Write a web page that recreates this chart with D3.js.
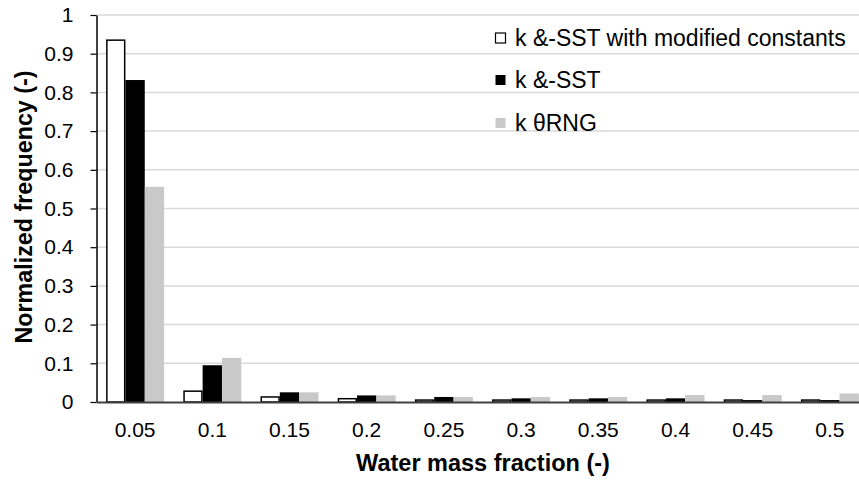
<!DOCTYPE html>
<html>
<head>
<meta charset="utf-8">
<script src="https://cdn.jsdelivr.net/npm/d3@7"></script>
<style>
  body { margin: 0; background: #fff; }
  text { font-family: "Liberation Sans", Arial, sans-serif; }
</style>
</head>
<body>
<div id="chart"></div>
<script>
// categories on the x axis
const fractions = ["0.05", "0.1", "0.15", "0.2", "0.25", "0.3", "0.35", "0.4", "0.45", "0.5"];
const seriesNames = ["k &-SST with modified constants", "k &-SST", "k \u03B8RNG"];
// values
const sstModified = [0.935, 0.028, 0.013, 0.0085, 0.005, 0.005, 0.005, 0.005, 0.005, 0.005];
const sst = [0.832, 0.095, 0.025, 0.017, 0.013, 0.0095, 0.0095, 0.0095, 0.005, 0.005];
const rng = [0.556, 0.114, 0.025, 0.017, 0.013, 0.013, 0.013, 0.018, 0.018, 0.022];
const yTicks = [0, 0.1, 0.2, 0.3, 0.4, 0.5, 0.6, 0.7, 0.8, 0.9, 1];

const width = 859, height = 482;
const plotLeft = 96.5, plotTop = 15, plotBottom = 402;
const bandW = 77.2;

const svg = d3.select("#chart").append("svg")
  .attr("width", width)
  .attr("height", height);

const x = d3.scaleBand()
  .domain(fractions)
  .range([plotLeft, plotLeft + bandW * fractions.length])
  .padding(0);

const sub = d3.scaleBand()
  .domain([0, 1, 2])
  .range([9.6, 67.6]);

const y = d3.scaleLinear().domain([0, 1]).range([plotBottom, plotTop]);

//gridlines
svg.append("g")
  .selectAll("line")
  .data(yTicks.slice(1))
  .enter()
  .append("line")
  .attr("x1", plotLeft)
  .attr("x2", plotLeft + bandW * fractions.length)
  .attr("y1", (d) => y(d))
  .attr("y2", (d) => y(d))
  .attr("stroke", "#d9d9d9")
  .attr("stroke-width", 1.5);

// bars
const fills = ["#ffffff", "#000000", "#c9c9c9"];
const allSeries = [sstModified, sst, rng];
allSeries.forEach(function (vals, s) {
  svg.append("g")
    .selectAll("rect")
    .data(vals)
    .enter()
    .append("rect")
    .attr("x", (d, i) => x(fractions[i]) + sub(s) + (s == 0 ? 0.75 : 0))
    .attr("width", sub.bandwidth() - (s == 0 ? 1.5 : 0))
    .attr("y", (d) => y(d))
    .attr("height", (d) => plotBottom - y(d))
    .attr("fill", fills[s])
    .attr("stroke", s == 0 ? "#000" : "none")
    .attr("stroke-width", 1.5);
});

// y axis
const yAxis = svg.append("g")
  .attr("transform", "translate(" + plotLeft + ",0)")
  .call(d3.axisLeft(y).tickValues(yTicks).tickSize(6).tickPadding(17)
    .tickSizeOuter(0).tickFormat((d) => String(+d.toFixed(1))));
yAxis.select(".domain").attr("stroke", "#000").attr("stroke-width", 1.5);
yAxis.selectAll(".tick line").attr("stroke", "#000").attr("stroke-width", 1.2);
yAxis.selectAll("text").attr("font-size", 21).attr("fill", "#000")
  .attr("font-family", "Liberation Sans, Arial, sans-serif");

// x axis
const xAxis = svg.append("g")
  .attr("transform", "translate(0," + plotBottom + ")")
  .call(d3.axisBottom(x).tickSize(0).tickPadding(20).tickSizeOuter(0));
xAxis.select(".domain").attr("stroke", "#404040").attr("stroke-width", 2);
xAxis.selectAll("text").attr("font-size", 21).attr("fill", "#000")
  .attr("font-family", "Liberation Sans, Arial, sans-serif");

// axis titles
svg.append("text")
  .attr("x", 483)
  .attr("y", 471)
  .attr("text-anchor", "middle")
  .attr("font-size", 23.5)
  .attr("font-weight", "bold")
  .text("Water mass fraction (-)");

svg.append("text")
  .attr("transform", "translate(32,207) rotate(-90)")
  .attr("text-anchor", "middle")
  .attr("font-size", 23.3)
  .attr("font-weight", "bold")
  .text("Normalized frequency (-)");

// legend
const legend = svg.append("g");
const rowBase = [46, 88, 131];
seriesNames.forEach(function (name, s) {
  legend.append("rect")
    .attr("x", 495.5)
    .attr("y", rowBase[s] - 13)
    .attr("width", 10)
    .attr("height", 10)
    .attr("fill", fills[s])
    .attr("stroke", s == 0 ? "#000" : "none")
    .attr("stroke-width", 1.2);
  legend.append("text")
    .attr("x", 515)
    .attr("y", rowBase[s])
    .attr("font-size", 23)
    .text(name);
});
</script>
</body>
</html>
